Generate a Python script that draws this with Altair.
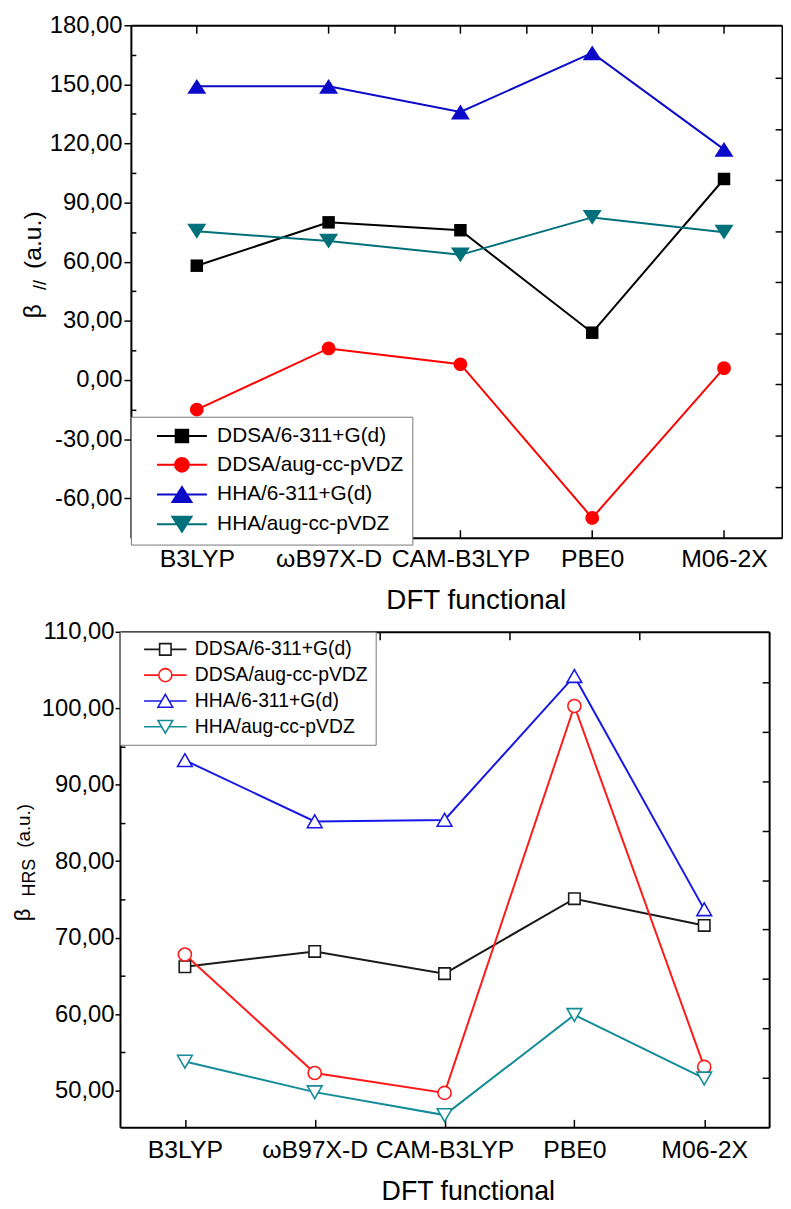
import json
import math
import altair as alt
import pandas as pd

FONT = "Liberation Sans"

functionals = ["B3LYP", "ωB97X-D", "CAM-B3LYP", "PBE0", "M06-2X"]
series = ["DDSA/6-311+G(d)", "DDSA/aug-cc-pVDZ", "HHA/6-311+G(d)", "HHA/aug-cc-pVDZ"]

# top panel: beta_parallel (a.u.)
bpar_ddsa_631 = [58, 80, 76, 24, 102]
bpar_ddsa_aug = [-15, 16, 8, -70, 6]
bpar_hha_631 = [149, 149, 136, 166, 117]
bpar_hha_aug = [75.5, 70.5, 63.5, 82.5, 75]

# bottom panel: beta_HRS (a.u.)
bhrs_ddsa_631 = [66.2, 68.2, 65.3, 75.1, 71.6]
bhrs_ddsa_aug = [67.8, 52.3, 49.7, 100.3, 53.1]
bhrs_hha_631 = [93.2, 85.2, 85.4, 104.2, 73.7]
bhrs_hha_aug = [53.8, 49.8, 46.8, 59.9, 51.6]

# tick values
top_y_major = [-60, -30, 0, 30, 60, 90, 120, 150, 180]
top_y_minor = [-75, -45, -15, 15, 45, 75, 105, 135, 165]
top_x_top = [1, 2, 2.5, 3, 3.5, 4, 4.5, 5]
top_right = [-54.4, -28.2, -2.3, 23.6, 49.5, 75.4, 101.3, 127.2, 153.1]
bot_y_major = [50, 60, 70, 80, 90, 100, 110]
bot_y_minor = [55, 65, 75, 85, 95, 105]
bot_x_top = [1.5, 2.5, 3.5, 4.5]
bot_right = [51.7, 58.2, 64.6, 71.1, 77.5, 84.0, 90.4, 96.9, 103.4]
x_major = [1, 2, 3, 4, 5]

top_colors = ["#000000", "#FF0000", "#0A0AC8", "#00707A"]
bot_colors = ["#1A1A1A", "#FF1A1A", "#1818E6", "#138C99"]

# marker paths (unit square -1..1 is scaled by sqrt(size)/2)
top_marks = [
    "M-1.05,-1.05H1.05V1.05H-1.05Z",
    "M1.15,0A1.15,1.15,0,1,1,-1.15,0A1.15,1.15,0,1,1,1.15,0Z",
    "M0,-1.25L1.6,1.25L-1.6,1.25Z",
    "M0,1.25L-1.6,-1.25L1.6,-1.25Z",
]


def hatch(wfn, y0, y1, step=0.18):
    out = []
    n = int(round((y1 - y0) / step))
    for k in range(n + 1):
        y = y0 + k * (y1 - y0) / n
        w = max(wfn(y), 0.0)
        out.append(f"M{-w:.3f},{y:.3f}H{w:.3f}")
    return "".join(out)


top_fill = [
    hatch(lambda y: 1.05, -1.05, 1.05),
    hatch(lambda y: math.sqrt(max(1.15 ** 2 - y * y, 0)) - 0.05, -1.0, 1.0),
    hatch(lambda y: 1.6 * (y + 1.25) / 2.5 - 0.1, -1.0, 1.2),
    hatch(lambda y: 1.6 * (1.25 - y) / 2.5 - 0.1, -1.2, 1.0),
]
top_leg = [m + f + "M-4.2,0H4.2" for m, f in zip(top_marks, top_fill)]

bot_marks = [
    "M-1.05,-1.05H1.05V1.05H-1.05Z",
    "M1.2,0A1.2,1.2,0,1,1,-1.2,0A1.2,1.2,0,1,1,1.2,0Z",
    "M0,-1.2L1.35,1.15L-1.35,1.15Z",
    "M0,1.2L1.35,-1.15L-1.35,-1.15Z",
]
bot_gaps = [1.05, 1.2, 0.69, 0.69]
bot_leg = [p + f"M-3.9,0H-{g}M{g},0H3.9" for p, g in zip(bot_marks, bot_gaps)]


def make_df(vals):
    rows = []
    for s, v in zip(series, vals):
        for i, (f, y) in enumerate(zip(functionals, v)):
            rows.append({"series": s, "functional": f, "pos": i + 1, "value": y})
    return pd.DataFrame(rows)


df_top = make_df([bpar_ddsa_631, bpar_ddsa_aug, bpar_hha_631, bpar_hha_aug])
df_bot = make_df([bhrs_ddsa_631, bhrs_ddsa_aug, bhrs_hha_631, bhrs_hha_aug])

num_expr = "(datum.value < 0 ? '-' : '') + replace(format(abs(datum.value), '.2f'), '.', ',')"
x_expr = json.dumps(functionals, ensure_ascii=False) + "[round(datum.value) - 1]"

AX = dict(domainColor="black", tickColor="black", tickWidth=1.5, grid=False,
          labelFont=FONT, labelColor="black", titleFont=FONT, titleColor="black",
          titleFontWeight="normal")


def panel(df, P):
    W, H = P["W"], P["H"]
    sx = dict(domain=P["xdom"], nice=False, zero=False)
    if P.get("xrange"):
        sx["range"] = P["xrange"]
    xscale = alt.Scale(**sx)
    yscale = alt.Scale(domain=P["ydom"], nice=False, zero=False)
    cscale = alt.Scale(domain=series, range=P["colors"])
    off = P["yoff"]

    x_bottom = alt.Axis(orient="bottom", values=x_major, labelExpr=x_expr,
                        tickSize=alt.ExprRef(expr="-8"), labelPadding=P["xlabpad"],
                        labelBaseline="alphabetic", labelFontSize=P["xlabfs"], labelAngle=0,
                        labelOverlap=False, labelFlush=False, domainWidth=2,
                        title="DFT functional", titleFontSize=P["xtitlefs"],
                        titleX=P["titleX"], titleY=P["titleY"], titleBaseline="alphabetic",
                        titleAlign="center", **AX)
    x_top = alt.Axis(orient="top", values=P["xtop"], labels=False, minExtent=0, maxExtent=0,
                     tickSize=alt.ExprRef(expr="-8"), domainWidth=2, title=None, **AX)
    y_major = alt.Axis(orient="left", values=P["ymajor"], labelExpr=num_expr,
                       tickSize=P["ytick"], labelPadding=P["ylabpad"], labelFontSize=P["ylabfs"],
                       labelOverlap=False, labelFlush=False, offset=off, domainWidth=2,
                       title=None, **AX)
    y_minor = alt.Axis(orient="left", values=P["yminor"], labels=False, domain=False,
                       minExtent=0, maxExtent=0,
                       tickSize=alt.ExprRef(expr="-5"), offset=off, title=None, **AX)
    y_right = alt.Axis(orient="right", values=P["yright"], labels=False, domainWidth=2,
                       minExtent=0, maxExtent=0,
                       tickSize=alt.ExprRef(expr="-7"), title=None, **AX)

    base = alt.Chart(df)
    lines = base.mark_line(strokeWidth=2).encode(
        x=alt.X("pos:Q", scale=xscale, axis=x_bottom),
        y=alt.Y("value:Q", scale=yscale, axis=y_major),
        color=alt.Color("series:N", scale=cscale, legend=None),
    )
    if P["filled"]:
        pts_mark = base.mark_point(filled=True, size=P["msize"], opacity=1)
    else:
        pts_mark = base.mark_point(filled=False, fill="white", size=P["msize"], opacity=1,
                                   strokeWidth=1.6)
    points = pts_mark.encode(
        x=alt.X("pos:Q", scale=xscale, axis=x_top),
        y=alt.Y("value:Q", scale=yscale, axis=y_right),
        color=alt.Color("series:N", scale=cscale, legend=None),
        shape=alt.Shape("series:N", scale=alt.Scale(domain=series, range=P["marks"]), legend=None),
    )
    leg = alt.Legend(orient="none", legendX=P["legX"], legendY=P["legY"], title=None,
                     labelFont=FONT, labelFontSize=P["legfs"], labelColor="black",
                     labelLimit=400, strokeColor="#777777", fillColor="white",
                     padding=P["legpad"], rowPadding=P["legrow"], symbolStrokeWidth=P["legsw"],
                     symbolSize=P["msize"], symbolOffset=P["symoff"], labelOffset=P["laboff"],
                     cornerRadius=0)
    enc = dict(
        x=alt.X("pos:Q", scale=xscale, axis=None),
        y=alt.Y("value:Q", scale=yscale, axis=y_minor),
        stroke=alt.Stroke("series:N", scale=alt.Scale(domain=series, range=P["colors"]), legend=leg),
        shape=alt.Shape("series:N", scale=alt.Scale(domain=series, range=P["leg"]), legend=leg),
    )
    if not P["filled"]:
        enc["fill"] = alt.Fill("series:N", scale=alt.Scale(domain=series, range=["white"] * len(series)),
                               legend=leg)
    legend_layer = base.mark_point(filled=False, opacity=0, size=P["msize"]).encode(**enc)

    texts = []
    for (t, fs, tx, ty) in P["ytitle"]:
        texts.append(
            alt.Chart(pd.DataFrame({"t": [t]})).mark_text(
                angle=270, align="left", baseline="alphabetic", font=FONT, fontSize=fs,
                color="black").encode(x=alt.value(tx), y=alt.value(ty), text="t:N",
                                      size=alt.value(fs))
        )
    ch = alt.layer(lines, points, legend_layer, *texts).resolve_scale(
        shape="independent", fill="independent", stroke="independent", color="independent"
    ).resolve_axis(x="independent", y="independent").properties(width=W, height=H)
    return ch


top_P = dict(
    W=668, H=517, xdom=[0.5, 5.44], xrange=[11, 668], ydom=[-80, 180], colors=top_colors,
    yoff=-11, xlabpad=37, xlabfs=25, xtitlefs=28, titleX=359, titleY=71,
    xtop=top_x_top, ymajor=top_y_major, yminor=top_y_minor, yright=top_right,
    ytick=7, ylabpad=2, ylabfs=24, filled=True, msize=144, marks=top_marks, leg=top_leg,
    legX=11, legY=395, legfs=21, legpad=9, legrow=7, legsw=2, symoff=32, laboff=25,
    ytitle=[("β", 25, -80, 296), ("//", 18, -75, 267), ("(a.u.)", 25, -80, 246)],
)
bot_P = dict(
    W=655, H=500, xdom=[0.5, 5.5], ydom=[45.2, 110], colors=bot_colors,
    yoff=0, xlabpad=38, xlabfs=25, xtitlefs=27, titleX=351, titleY=73,
    xtop=bot_x_top, ymajor=bot_y_major, yminor=bot_y_minor, yright=bot_right,
    ytick=5, ylabpad=1, ylabfs=24, filled=False, msize=121, marks=bot_marks, leg=bot_leg,
    legX=0, legY=0, legfs=19.5, legpad=8, legrow=5, legsw=1.6, symoff=28, laboff=20,
    ytitle=[("β", 22, -91, 292), ("HRS", 18, -86, 267), ("(a.u.)", 19, -91, 218)],
)

chart = alt.vconcat(panel(df_top, top_P), panel(df_bot, bot_P), spacing=6).properties(
    padding={"left": 4, "top": 0, "right": 0, "bottom": 0}
).configure_view(strokeWidth=0)

chart.save("out.html", embed_options={"renderer": "svg", "actions": False})
